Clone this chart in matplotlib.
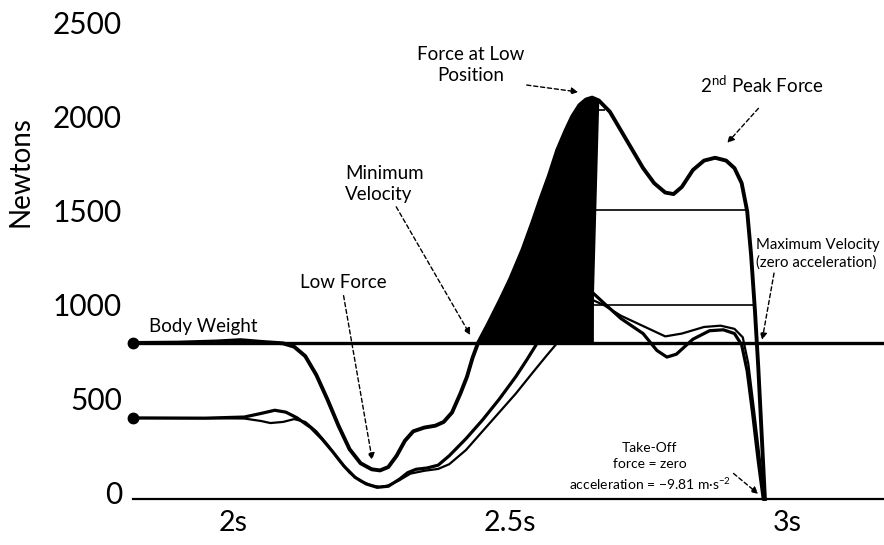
import numpy as np
import matplotlib.pyplot as plt
from matplotlib.transforms import ScaledTranslation

plt.rcParams['font.family'] = ['Lato', 'DejaVu Sans']
plt.rcParams['mathtext.fontset'] = 'custom'
plt.rcParams['mathtext.rm'] = 'Lato'
plt.rcParams['mathtext.it'] = 'Lato:italic'

# force-time data (seconds, Newtons)
main_t = np.array([1.819, 1.90, 1.97, 2.013, 2.05, 2.09, 2.11, 2.13, 2.15, 2.17,
                   2.19, 2.21, 2.23, 2.25, 2.265, 2.28, 2.295, 2.31, 2.325, 2.345,
                   2.365, 2.38, 2.395, 2.41, 2.422, 2.432, 2.442, 2.46, 2.482, 2.50,
                   2.522, 2.54, 2.554, 2.57, 2.585, 2.60, 2.612, 2.625, 2.637, 2.648,
                   2.66, 2.68, 2.70, 2.72, 2.74, 2.76, 2.78, 2.795, 2.81, 2.83,
                   2.85, 2.87, 2.89, 2.905, 2.918, 2.928, 2.935, 2.942, 2.948, 2.954, 2.960])
main_f = np.array([830, 832, 838, 845, 836, 828, 810, 760, 660, 530,
                   390, 265, 190, 158, 152, 170, 230, 310, 360, 380,
                   390, 410, 460, 560, 650, 750, 830, 930, 1059, 1170,
                   1324, 1470, 1590, 1720, 1856, 1960, 2035, 2095, 2125, 2135,
                   2120, 2060, 1960, 1860, 1760, 1680, 1630, 1622, 1660, 1750,
                   1800, 1815, 1800, 1760, 1680, 1530, 1300, 1000, 700, 350, 0])

curve_a_t = np.array([1.819, 1.95, 2.02, 2.05, 2.075, 2.095, 2.115, 2.14, 2.16, 2.18,
                      2.20, 2.22, 2.24, 2.26, 2.28, 2.30, 2.315, 2.33, 2.35, 2.37,
                      2.39, 2.42, 2.45, 2.48, 2.51, 2.53, 2.549, 2.57, 2.60, 2.625,
                      2.648, 2.67, 2.70, 2.74, 2.765, 2.783, 2.80, 2.83, 2.86, 2.885,
                      2.905, 2.918, 2.928, 2.938, 2.948, 2.957])
curve_a_f = np.array([431, 430, 436, 455, 472, 462, 432, 380, 320, 250,
                      175, 115, 80, 62, 68, 105, 140, 158, 165, 180,
                      230, 320, 420, 530, 650, 740, 830, 930, 1040, 1090,
                      1100, 1040, 960, 880, 790, 755, 770, 850, 895, 900,
                      880, 820, 680, 450, 200, 0])

curve_b_t = np.array([1.819, 1.95, 2.02, 2.05, 2.067, 2.09, 2.11, 2.13, 2.15, 2.17,
                      2.19, 2.21, 2.23, 2.25, 2.265, 2.28, 2.30, 2.32, 2.345, 2.37,
                      2.39, 2.42, 2.45, 2.48, 2.51, 2.54, 2.565, 2.585, 2.61, 2.63,
                      2.648, 2.67, 2.70, 2.74, 2.78, 2.81, 2.85, 2.88, 2.905, 2.92,
                      2.93, 2.94, 2.95, 2.96])
curve_b_f = np.array([431, 430, 428, 415, 404, 410, 425, 410, 360, 290,
                      210, 140, 95, 72, 64, 72, 100, 135, 150, 160,
                      185, 260, 360, 460, 560, 670, 760, 830, 940, 1020,
                      1060, 1030, 975, 920, 865, 880, 915, 922, 905, 860,
                      720, 480, 230, 0])

body_weight = 830
cross_t = 2.442
peak_t = 2.648
peak_f = 2135
ref_levels = [2069, 1537, 1032]
ref_ends = [2.671, 2.926, 2.940]

fig = plt.figure(figsize=(8.84, 5.45), dpi=100)
ax = fig.add_axes([133 / 884, 46 / 545, 751 / 884, 470 / 545])
ax.set_xlim(1.819, 3.175)
ax.set_ylim(0, 2500)

# curves
ax.plot(curve_b_t, curve_b_f, color='black', lw=1.6, solid_joinstyle='round', clip_on=False)
ax.plot(curve_a_t, curve_a_f, color='black', lw=2.3, solid_joinstyle='round', clip_on=False)
ax.axhline(body_weight, color='black', lw=2.4)
ax.fill_between(main_t, main_f, body_weight,
                where=(main_t >= cross_t) & (main_t <= peak_t),
                color='black', interpolate=True, lw=0)
ax.vlines(peak_t, body_weight, peak_f, color='black', lw=2)
ax.plot(main_t, main_f, color='black', lw=2.8, solid_joinstyle='round', clip_on=False)
for lvl, end in zip(ref_levels, ref_ends):
    ax.hlines(lvl, peak_t, end, color='black', lw=1.2)

# start dots
ax.plot([main_t[0], curve_a_t[0]], [main_f[0], curve_a_f[0]], 'o', color='black',
        ms=7.5, clip_on=False)

# axes style
for s in ['top', 'right', 'left']:
    ax.spines[s].set_visible(False)
ax.spines['bottom'].set_linewidth(1.6)
ax.set_yticks([0, 500, 1000, 1500, 2000, 2500])
ax.set_xticks([2, 2.5, 3])
ax.set_xticklabels(['2s', '2.5s', '3s'])
ax.tick_params(axis='both', length=0)
ax.tick_params(axis='y', pad=8, labelsize=21.5)
ax.tick_params(axis='x', pad=8, labelsize=20.5)
off = ScaledTranslation(0, 0.07, fig.dpi_scale_trans)
for lab in ax.get_yticklabels():
    lab.set_transform(lab.get_transform() + off)
ax.set_ylabel('Newtons', fontsize=20)
ax.yaxis.set_label_coords(-0.133, 0.696)

# annotations
arrow = dict(arrowstyle='-|>', color='black', lw=1, linestyle=(0, (3, 2)),
             shrinkA=0, shrinkB=0, mutation_scale=10)
fs = 13.5
ax.annotate('Force at Low\nPosition', xy=(2.623, 2165), xytext=(2.428, 2309),
            ha='center', va='center', fontsize=fs, linespacing=1.3,
            arrowprops=dict(arrow, relpos=(0.82, 0.05)), annotation_clip=False)
ax.annotate('2$^{\\mathrm{nd}}$ Peak Force', xy=(2.892, 1894), xytext=(2.955, 2202),
            ha='center', va='center', fontsize=fs,
            arrowprops=dict(arrow, relpos=(0.47, -0.6)), annotation_clip=False)
ax.annotate('Minimum\nVelocity', xy=(2.428, 872), xytext=(2.202, 1676),
            ha='left', va='center', fontsize=fs, linespacing=1.3,
            arrowprops=dict(arrow, relpos=(0.65, -0.1)), annotation_clip=False)
ax.annotate('Low Force', xy=(2.251, 207), xytext=(2.121, 1154),
            ha='left', va='center', fontsize=fs,
            arrowprops=dict(arrow, relpos=(0.5, -0.3)), annotation_clip=False)
ax.text(1.847, 920, 'Body Weight', ha='left', va='center', fontsize=fs)
ax.annotate('Maximum Velocity\n(zero acceleration)', xy=(2.955, 846), xytext=(2.943, 1303),
            ha='left', va='center', fontsize=10.8, linespacing=1.3,
            arrowprops=dict(arrow, relpos=(0.15, -0.1)), annotation_clip=False)
ax.annotate('Take-Off\nforce = zero\nacceleration = \u22129.81 m\u00b7s$^{\u22122}$',
            xy=(2.948, 27), xytext=(2.752, 170),
            ha='center', va='center', fontsize=10, linespacing=1.45,
            arrowprops=dict(arrow, relpos=(0.78, 1.0)), annotation_clip=False)

fig.savefig('out.png', dpi=100)
